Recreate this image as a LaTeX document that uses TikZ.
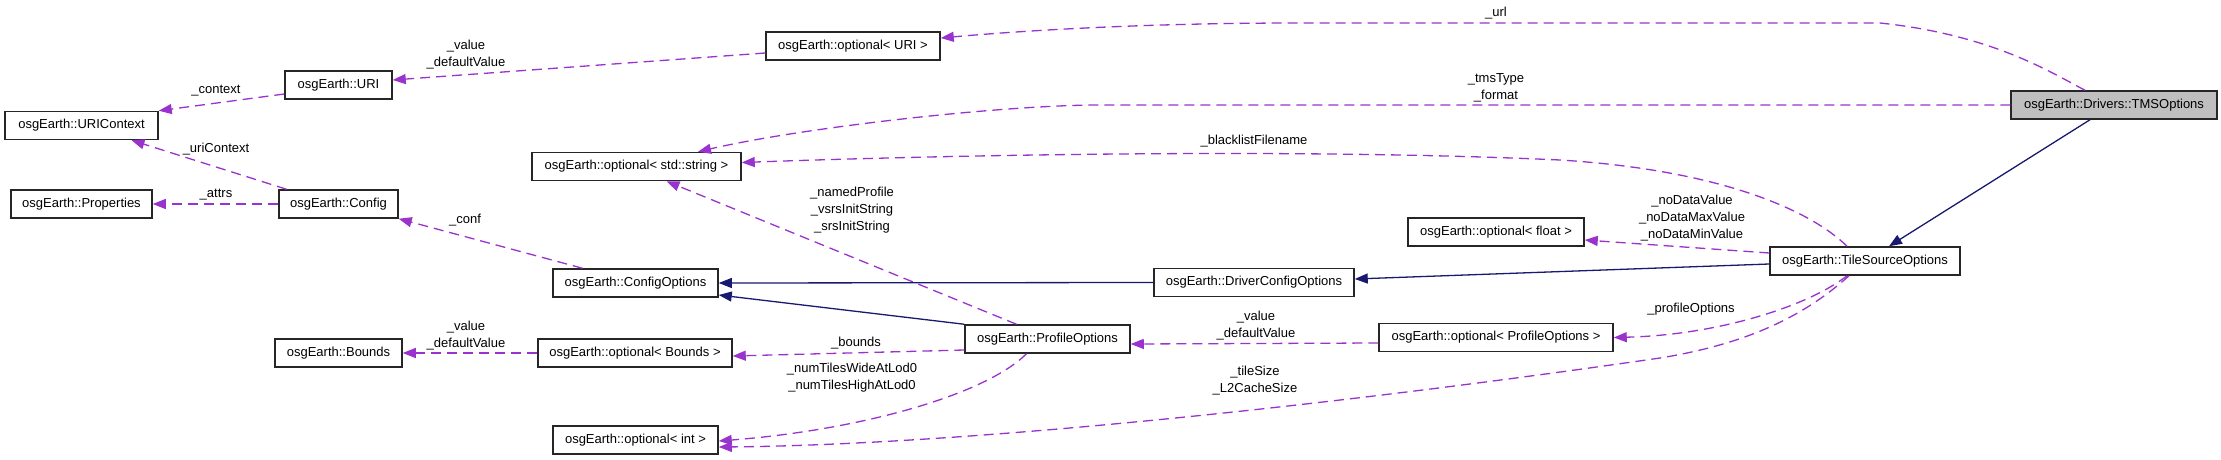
\documentclass[tikz,border=0pt]{standalone}
\usepackage{fontspec}
\setmainfont{Liberation Sans}
\usetikzlibrary{arrows.meta}
\definecolor{usecol}{HTML}{9A32CD}
\definecolor{inhcol}{HTML}{191970}
\definecolor{boxgray}{HTML}{BFBFBF}
\begin{document}
\begin{tikzpicture}[x=1pt,y=-1pt,
 cls/.style={draw=black!85, line width=1.5pt, minimum height=28pt, inner sep=0pt, font=\fontsize{13}{15}\selectfont},
 lbl/.style={inner sep=0pt, align=center, font=\fontsize{13}{17}\selectfont},
 use/.style={draw=usecol, line width=1.3pt, dash pattern=on 10pt off 6pt, -{Triangle[length=13pt,width=10pt]}},
 inh/.style={draw=inhcol, line width=1.3pt, -{Triangle[length=13pt,width=10pt]}}]
\fill[white] (0,0) rectangle (2221,460);
\useasboundingbox (0,0) rectangle (2221,460);
% classes
\node[cls, minimum width=174pt] (opturi) at (853,46) {osgEarth::optional< URI >};
\node[cls, minimum width=107pt] (uri) at (338.5,85) {osgEarth::URI};
\node[cls, minimum width=153pt] (uric) at (81.5,125.5) {osgEarth::URIContext};
\node[cls, minimum width=209pt] (optstr) at (636.5,166.5) {osgEarth::optional< std::string >};
\node[cls, minimum width=141pt] (props) at (81.5,204) {osgEarth::Properties};
\node[cls, minimum width=119pt] (config) at (338.5,204) {osgEarth::Config};
\node[cls, minimum width=165pt] (confopt) at (635.5,283) {osgEarth::ConfigOptions};
\node[cls, minimum width=127pt] (bounds) at (338.5,353) {osgEarth::Bounds};
\node[cls, minimum width=194pt] (optbounds) at (635,353) {osgEarth::optional< Bounds >};
\node[cls, minimum width=165pt] (optint) at (635.5,440) {osgEarth::optional< int >};
\node[cls, minimum width=200pt] (driver) at (1254,282.5) {osgEarth::DriverConfigOptions};
\node[cls, minimum width=165pt] (profopt) at (1047.5,339) {osgEarth::ProfileOptions};
\node[cls, minimum width=234pt] (optprof) at (1496,337.5) {osgEarth::optional< ProfileOptions >};
\node[cls, minimum width=176pt] (optfloat) at (1496,232) {osgEarth::optional< float >};
\node[cls, minimum width=190pt] (tile) at (1865,261) {osgEarth::TileSourceOptions};
\node[cls, minimum width=206pt, fill=boxgray] (tms) at (2114,105) {osgEarth::Drivers::TMSOptions};
% labels
\node[lbl] (lurl) at (1496,13) {\_url};
\node[lbl] (ltms) at (1496,87.5) {\_tmsType\\\_format};
\node[lbl] (luriv) at (466,55) {\_value\\\_defaultValue};
\node[lbl] (lctx) at (216,91) {\_context};
\node[lbl] (lblack) at (1254,141) {\_blacklistFilename};
\node[lbl] (luctx) at (216,149) {\_uriContext};
\node[lbl] (lnamed) at (852,210.5) {\_namedProfile\\\_vsrsInitString\\\_srsInitString};
\node[lbl] (lattrs) at (216,195) {\_attrs};
\node[lbl] (lnodata) at (1692,218) {\_noDataValue\\\_noDataMaxValue\\\_noDataMinValue};
\node[lbl] (lconf) at (465,220) {\_conf};
\node[lbl] (lprof) at (1691,309) {\_profileOptions};
\node[lbl] (lbv) at (466,335.5) {\_value\\\_defaultValue};
\node[lbl] (lpv) at (1256,326) {\_value\\\_defaultValue};
\node[lbl] (lbnd) at (856,343) {\_bounds};
\node[lbl] (lnum) at (852,378) {\_numTilesWideAtLod0\\\_numTilesHighAtLod0};
\node[lbl] (ltile) at (1255,380.5) {\_tileSize\\\_L2CacheSize};
% usage edges
\draw[use] ([xshift=-29pt]tms.north) .. controls (2055,75) and (1995,35) .. (1880,23) -- (1300,23) .. controls (1150,23) and (1030,30) .. ([yshift=8pt]opturi.east);
\draw[use] (tms.west) -- (1100,105) .. controls (1000,105) and (800,128) .. ([xshift=61.5pt]optstr.north);
\draw[use] ([xshift=-18pt]tile.north) .. controls (1810,210) and (1720,170) .. (1560,160) .. controls (1300,148) and (950,155) .. ([yshift=4pt]optstr.east);
\draw[use] ([yshift=8pt]tile.west) -- ([yshift=-8pt]optfloat.east);
\draw[use] ([xshift=-31pt]profopt.north) -- ([xshift=30pt]optstr.south);
\draw[use] ([xshift=-53pt]confopt.north) -- (config.south east);
\draw[use] ([xshift=-52pt]config.north) -- ([xshift=50pt]uric.south);
\draw[use] (config.west) -- (props.east);
\draw[use] ([yshift=-9pt]uri.west) -- (uric.north east);
\draw[use] ([yshift=-7pt]opturi.west) -- ([yshift=5pt]uri.east);
\draw[use] (optbounds.west) -- (bounds.east);
\draw[use] ([yshift=-11pt]profopt.west) -- ([yshift=-3pt]optbounds.east);
\draw[use] ([xshift=-21pt]profopt.south) .. controls (985,395) and (860,430) .. ([yshift=-1pt]optint.east);
\draw[use] ([xshift=-16pt]tile.south) .. controls (1800,320) and (1740,345) .. (1660,358) .. controls (1300,410) and (950,445) .. ([yshift=-7pt]optint.east);
\draw[use] ([yshift=-5.5pt]optprof.west) -- ([yshift=-5pt]profopt.east);
\draw[use] ([xshift=-18pt]tile.south) .. controls (1810,305) and (1720,335) .. (optprof.east);
% inheritance edges
\draw[inh] ([xshift=-24pt]tms.south) -- ([xshift=24pt]tile.north);
\draw[inh] ([yshift=-3pt]tile.west) -- ([yshift=3.5pt]driver.east);
\draw[inh] (driver.west) -- (confopt.east);
\draw[inh] (profopt.north west) -- ([yshift=-12pt]confopt.east);
\end{tikzpicture}
\end{document}
